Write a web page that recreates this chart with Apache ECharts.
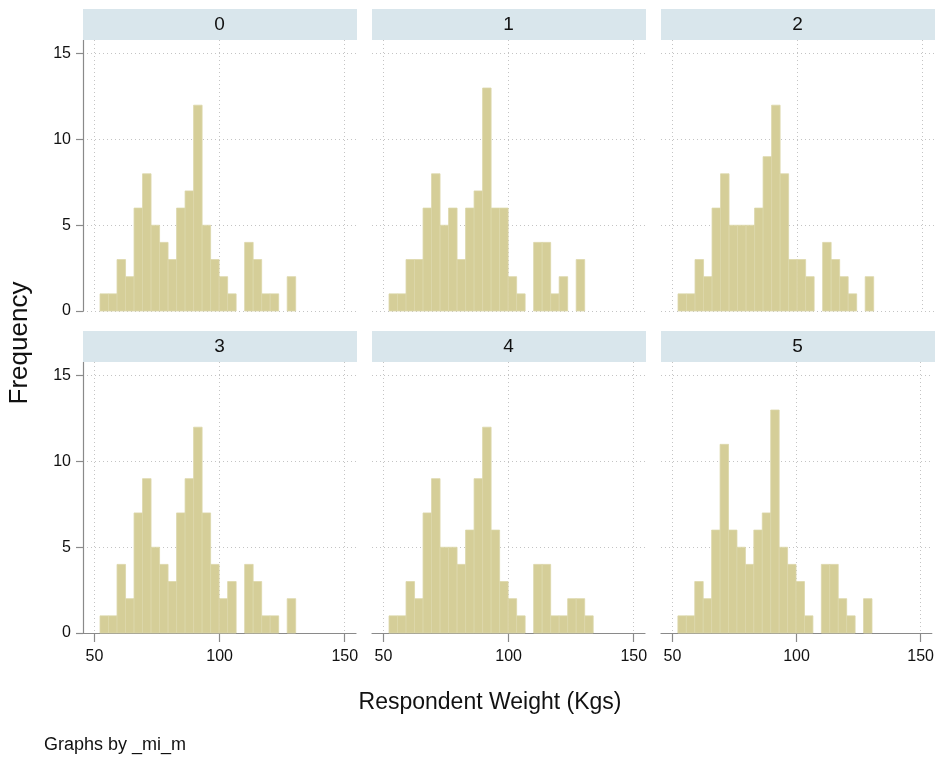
<!DOCTYPE html>
<html>
<head>
<meta charset="utf-8">
<script src="https://cdn.jsdelivr.net/npm/echarts@6/dist/echarts.min.js"></script>
<style>
  html, body { margin: 0; padding: 0; background: #fff; }
  #chart { width: 937px; height: 758px; }
</style>
</head>
<body>
<div id="chart"></div>
<script>
// Histogram of respondent weight by imputation number (_mi_m)
const panelLabels = ['0', '1', '2', '3', '4', '5'];
const binStart = 52.2;   // lower edge of first bin (kg)
const binWidth = 3.4;    // bin width (kg)

// Frequencies per bin for each imputation
const freq0 = [1, 1, 3, 2, 6, 8, 5, 4, 3, 6, 7, 12, 5, 3, 2, 1, 0, 4, 3, 1, 1, 0, 2, 0];
const freq1 = [1, 1, 3, 3, 6, 8, 5, 6, 3, 6, 7, 13, 6, 6, 2, 1, 0, 4, 4, 1, 2, 0, 3, 0];
const freq2 = [1, 1, 3, 2, 6, 8, 5, 5, 5, 6, 9, 12, 8, 3, 3, 2, 0, 4, 3, 2, 1, 0, 2, 0];
const freq3 = [1, 1, 4, 2, 7, 9, 5, 4, 3, 7, 9, 12, 7, 4, 2, 3, 0, 4, 3, 1, 1, 0, 2, 0];
const freq4 = [1, 1, 3, 2, 7, 9, 5, 5, 4, 6, 9, 12, 6, 3, 2, 1, 0, 4, 4, 1, 1, 2, 2, 1];
const freq5 = [1, 1, 3, 2, 6, 11, 6, 5, 4, 6, 7, 13, 5, 4, 3, 1, 0, 4, 4, 2, 1, 0, 2, 0];
const allFreq = [freq0, freq1, freq2, freq3, freq4, freq5];

const xTicks = [50, 100, 150];
const yTicks = [0, 5, 10, 15];
const xMin = 45.4, xMax = 154.5;
const yMin = 0, yMax = 15.8;

const xTitle = 'Respondent Weight (Kgs)';
const yTitle = 'Frequency';
const note = 'Graphs by _mi_m';

// Panel geometry (pixels)
const colLeft = [83, 372, 661];
const rowTop = [40, 362];
const panelW = 273, panelH = 271, stripH = 31;

const narrow = '"Liberation Sans Narrow", "Liberation Sans", Arial, sans-serif';
const barColor = '#d5ce98';
const gridLineStyle = { color: '#c4c4c4', width: 1, type: [1, 3] };
const axisColor = '#8a8a8a';

const grids = [], xAxes = [], yAxes = [], series = [], graphics = [];

allFreq.forEach((f, i) => {
  const col = i % 3, row = Math.floor(i / 3);
  const isBottom = row === 1, isLeft = col === 0;
  grids.push({ left: colLeft[col], top: rowTop[row], width: panelW, height: panelH, containLabel: false });

  xAxes.push({
    type: 'value', gridIndex: i, min: xMin, max: xMax,
    axisLine: { show: isBottom, onZero: false, lineStyle: { color: axisColor, width: 1.2 } },
    axisTick: { show: isBottom, customValues: xTicks, length: 9, lineStyle: { color: axisColor, width: 1.2 } },
    axisLabel: { show: isBottom, customValues: xTicks, color: '#111', fontSize: 16, fontFamily: narrow, margin: 16 },
    splitLine: { show: true, lineStyle: gridLineStyle }
  });

  yAxes.push({
    type: 'value', gridIndex: i, min: yMin, max: yMax,
    axisLine: { show: isLeft, lineStyle: { color: axisColor, width: 1.2 } },
    axisTick: { show: isLeft, customValues: yTicks, length: 7, lineStyle: { color: axisColor, width: 1.2 } },
    axisLabel: { show: isLeft, customValues: yTicks, color: '#111', fontSize: 16, fontFamily: narrow, margin: 12 },
    splitLine: { show: true, lineStyle: gridLineStyle }
  });

  const data = f.map((v, k) => [binStart + k * binWidth, binStart + (k + 1) * binWidth, v]);
  series.push({
    type: 'custom', xAxisIndex: i, yAxisIndex: i, data: data,
    renderItem: function (params, api) {
      const count = api.value(2);
      if (!count) return null;
      const p0 = api.coord([api.value(0), count]);
      const p1 = api.coord([api.value(1), 0]);
      return {
        type: 'rect',
        shape: { x: p0[0], y: p0[1], width: p1[0] - p0[0], height: p1[1] - p0[1] },
        style: { fill: barColor, stroke: '#dcd7aa', lineWidth: 0.8 }
      };
    },
    encode: { x: [0, 1], y: 2 }
  });

  // Panel header strip
  graphics.push({
    type: 'rect', left: colLeft[col], top: rowTop[row] - stripH,
    shape: { width: panelW + 1, height: stripH },
    style: { fill: '#d9e6ec' }, z: 1
  });
  graphics.push({
    type: 'text', x: colLeft[col] + panelW / 2, y: rowTop[row] - stripH / 2,
    style: { text: panelLabels[i], fill: '#111', font: '19px ' + narrow, textAlign: 'center', textVerticalAlign: 'middle' }, z: 2
  });
});

graphics.push({
  type: 'text', x: 490, y: 703,
  style: { text: xTitle, fill: '#111', font: '23px ' + narrow, textAlign: 'center', textVerticalAlign: 'middle' }
});
graphics.push({
  type: 'text', x: 20, y: 343, rotation: Math.PI / 2,
  style: { text: yTitle, fill: '#111', font: '26px "Liberation Sans", Arial, sans-serif', textAlign: 'center', textVerticalAlign: 'middle' }
});
graphics.push({
  type: 'text', x: 44, y: 745,
  style: { text: note, fill: '#111', font: '18px ' + narrow, textAlign: 'left', textVerticalAlign: 'middle' }
});

const chart = echarts.init(document.getElementById('chart'), null, { renderer: 'canvas' });
chart.setOption({
  animation: false,
  backgroundColor: '#ffffff',
  grid: grids, xAxis: xAxes, yAxis: yAxes, series: series, graphic: graphics
});
</script>
</body>
</html>
